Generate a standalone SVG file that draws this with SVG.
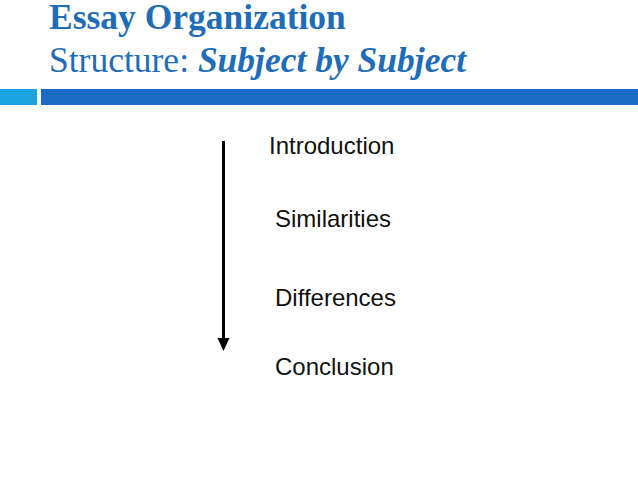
<svg xmlns="http://www.w3.org/2000/svg" width="638" height="479" viewBox="0 0 638 479">
<style>
.t{font-family:"Liberation Serif","Times New Roman",serif;fill:#1F6DB9;font-size:35.5px}
.i{font-family:"Liberation Sans",Arial,sans-serif;font-size:24px;fill:#111}
</style>
<rect width="638" height="479" fill="#fff"/>
<g id="title">
<text class="t" x="49" y="29" font-weight="bold">Essay Organization</text>
<text class="t" x="49" y="72">Structure: <tspan font-weight="bold" font-style="italic">Subject by Subject</tspan></text>
</g>
<g id="bars">
<rect x="0" y="89" width="37" height="16" fill="#1BA3E0"/>
<rect x="41" y="89" width="597" height="16" fill="#1A6CC4"/>
</g>
<g id="connectors">
<line x1="223.5" y1="141" x2="223.5" y2="340" stroke="#000" stroke-width="3"/>
<polygon points="217.5,338 229.5,338 223.5,351" fill="#000"/>
</g>
<g id="intro"><text class="i" x="269" y="154">Introduction</text></g>
<g id="sim"><text class="i" x="275" y="227">Similarities</text></g>
<g id="diff"><text class="i" x="275" y="306">Differences</text></g>
<g id="concl"><text class="i" x="275" y="375">Conclusion</text></g>
</svg>
